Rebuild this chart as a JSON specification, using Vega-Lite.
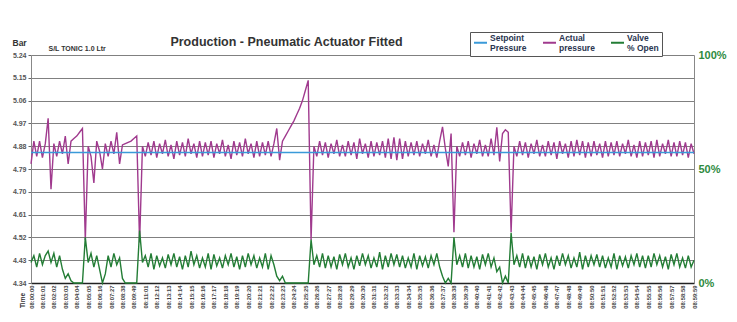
{
"$schema": "https://vega.github.io/schema/vega-lite/v6.json",
"autosize": "none",
"padding": {"left": 31, "top": 55, "right": 43, "bottom": 39},
"width": 663,
"height": 228,
"background": "white",
"config": {"font": "Liberation Sans", "view": {"stroke": null}},
"title": {"text": "Production - Pneumatic Actuator Fitted", "fontSize": 12.5, "fontWeight": "bold", "color": "#333333", "anchor": "middle", "frame": "group", "dx": -76, "offset": -27, "baseline": "alphabetic"},
"data": {"values": [
{"i":0,"p":4.81,"v":9},{"i":1,"p":4.90,"v":12},{"i":2,"p":4.84,"v":7},{"i":3,"p":4.90,"v":13},{"i":4,"p":4.835,"v":8},{"i":5,"p":4.89,"v":12},{"i":6,"p":4.99,"v":14},{"i":7,"p":4.71,"v":9},{"i":8,"p":4.89,"v":13},{"i":9,"p":4.84,"v":7},
{"i":10,"p":4.90,"v":12},{"i":11,"p":4.85,"v":6},{"i":12,"p":4.92,"v":2},{"i":13,"p":4.81,"v":4},{"i":14,"p":4.90,"v":1},{"i":15,"p":4.91,"v":0},{"i":16,"p":4.92,"v":0},{"i":17,"p":4.935,"v":0},{"i":18,"p":4.95,"v":0},{"i":19,"p":4.51,"v":20},
{"i":20,"p":4.88,"v":9},{"i":21,"p":4.84,"v":13},{"i":22,"p":4.735,"v":7},{"i":23,"p":4.90,"v":12},{"i":24,"p":4.86,"v":6},{"i":25,"p":4.79,"v":0},{"i":26,"p":4.89,"v":4},{"i":27,"p":4.84,"v":12},{"i":28,"p":4.90,"v":7},{"i":29,"p":4.85,"v":13},
{"i":30,"p":4.935,"v":8},{"i":31,"p":4.81,"v":11},{"i":32,"p":4.885,"v":2},{"i":33,"p":4.89,"v":0},{"i":34,"p":4.895,"v":0},{"i":35,"p":4.90,"v":0},{"i":36,"p":4.91,"v":0},{"i":37,"p":4.92,"v":0},{"i":38,"p":4.50,"v":23},{"i":39,"p":4.88,"v":9},
{"i":40,"p":4.84,"v":12},{"i":41,"p":4.895,"v":7},{"i":42,"p":4.845,"v":13},{"i":43,"p":4.90,"v":6},{"i":44,"p":4.835,"v":12},{"i":45,"p":4.89,"v":7.5},{"i":46,"p":4.85,"v":11},{"i":47,"p":4.905,"v":6.5},{"i":48,"p":4.84,"v":12.5},{"i":49,"p":4.885,"v":8},
{"i":50,"p":4.83,"v":13},{"i":51,"p":4.90,"v":7},{"i":52,"p":4.845,"v":11.5},{"i":53,"p":4.895,"v":6},{"i":54,"p":4.84,"v":12},{"i":55,"p":4.91,"v":7},{"i":56,"p":4.85,"v":14},{"i":57,"p":4.89,"v":8},{"i":58,"p":4.835,"v":12},{"i":59,"p":4.90,"v":6.5},
{"i":60,"p":4.84,"v":11},{"i":61,"p":4.895,"v":7},{"i":62,"p":4.845,"v":13},{"i":63,"p":4.90,"v":6},{"i":64,"p":4.835,"v":12.5},{"i":65,"p":4.89,"v":7.5},{"i":66,"p":4.85,"v":11},{"i":67,"p":4.905,"v":6.5},{"i":68,"p":4.84,"v":12},{"i":69,"p":4.885,"v":8},
{"i":70,"p":4.83,"v":13},{"i":71,"p":4.90,"v":7},{"i":72,"p":4.845,"v":11.5},{"i":73,"p":4.895,"v":6},{"i":74,"p":4.84,"v":12},{"i":75,"p":4.91,"v":7},{"i":76,"p":4.85,"v":13},{"i":77,"p":4.89,"v":8},{"i":78,"p":4.835,"v":12},{"i":79,"p":4.90,"v":6.5},
{"i":80,"p":4.84,"v":11},{"i":81,"p":4.895,"v":7},{"i":82,"p":4.845,"v":13},{"i":83,"p":4.90,"v":6},{"i":84,"p":4.84,"v":12},{"i":85,"p":4.89,"v":8},{"i":86,"p":4.95,"v":3},{"i":87,"p":4.825,"v":1},{"i":88,"p":4.90,"v":3},{"i":89,"p":4.92,"v":0},
{"i":90,"p":4.94,"v":0},{"i":91,"p":4.96,"v":0},{"i":92,"p":4.98,"v":0},{"i":93,"p":5.005,"v":0},{"i":94,"p":5.03,"v":0},{"i":95,"p":5.06,"v":0},{"i":96,"p":5.10,"v":0},{"i":97,"p":5.14,"v":0},{"i":98,"p":4.51,"v":19},{"i":99,"p":4.88,"v":8},
{"i":100,"p":4.84,"v":12},{"i":101,"p":4.90,"v":7},{"i":102,"p":4.845,"v":13},{"i":103,"p":4.895,"v":6.5},{"i":104,"p":4.835,"v":12},{"i":105,"p":4.89,"v":7},{"i":106,"p":4.85,"v":11.5},{"i":107,"p":4.905,"v":6},{"i":108,"p":4.84,"v":12.5},{"i":109,"p":4.885,"v":8},
{"i":110,"p":4.84,"v":13},{"i":111,"p":4.90,"v":7},{"i":112,"p":4.845,"v":11},{"i":113,"p":4.895,"v":6},{"i":114,"p":4.83,"v":12},{"i":115,"p":4.91,"v":7.5},{"i":116,"p":4.85,"v":13},{"i":117,"p":4.89,"v":8},{"i":118,"p":4.835,"v":12},{"i":119,"p":4.90,"v":6.5},
{"i":120,"p":4.84,"v":11},{"i":121,"p":4.895,"v":7},{"i":122,"p":4.845,"v":13.5},{"i":123,"p":4.90,"v":6},{"i":124,"p":4.835,"v":12},{"i":125,"p":4.91,"v":7},{"i":126,"p":4.83,"v":13},{"i":127,"p":4.915,"v":8},{"i":128,"p":4.825,"v":12.5},{"i":129,"p":4.91,"v":7},
{"i":130,"p":4.83,"v":12},{"i":131,"p":4.90,"v":6.5},{"i":132,"p":4.84,"v":11},{"i":133,"p":4.895,"v":7},{"i":134,"p":4.845,"v":13},{"i":135,"p":4.90,"v":6},{"i":136,"p":4.84,"v":12},{"i":137,"p":4.89,"v":7.5},{"i":138,"p":4.85,"v":11.5},{"i":139,"p":4.905,"v":6.5},
{"i":140,"p":4.84,"v":12},{"i":141,"p":4.885,"v":8},{"i":142,"p":4.835,"v":13},{"i":143,"p":4.90,"v":7},{"i":144,"p":4.956,"v":3},{"i":145,"p":4.87,"v":0},{"i":146,"p":4.80,"v":2},{"i":147,"p":4.93,"v":0},{"i":148,"p":4.54,"v":20},{"i":149,"p":4.88,"v":8},
{"i":150,"p":4.84,"v":12},{"i":151,"p":4.895,"v":7},{"i":152,"p":4.845,"v":13},{"i":153,"p":4.90,"v":6.5},{"i":154,"p":4.835,"v":12},{"i":155,"p":4.89,"v":7},{"i":156,"p":4.85,"v":11.5},{"i":157,"p":4.905,"v":6},{"i":158,"p":4.84,"v":12.5},{"i":159,"p":4.885,"v":8},
{"i":160,"p":4.84,"v":13},{"i":161,"p":4.91,"v":7},{"i":162,"p":4.845,"v":11},{"i":163,"p":4.955,"v":5},{"i":164,"p":4.82,"v":7},{"i":165,"p":4.93,"v":0},{"i":166,"p":4.945,"v":3},{"i":167,"p":4.935,"v":0},{"i":168,"p":4.54,"v":22},{"i":169,"p":4.88,"v":8},
{"i":170,"p":4.84,"v":12},{"i":171,"p":4.90,"v":7},{"i":172,"p":4.845,"v":13},{"i":173,"p":4.895,"v":6.5},{"i":174,"p":4.835,"v":12},{"i":175,"p":4.89,"v":7},{"i":176,"p":4.85,"v":11.5},{"i":177,"p":4.905,"v":6},{"i":178,"p":4.84,"v":12.5},{"i":179,"p":4.885,"v":8},
{"i":180,"p":4.84,"v":13},{"i":181,"p":4.90,"v":7},{"i":182,"p":4.845,"v":11},{"i":183,"p":4.895,"v":6},{"i":184,"p":4.83,"v":12},{"i":185,"p":4.90,"v":7.5},{"i":186,"p":4.85,"v":13},{"i":187,"p":4.89,"v":8},{"i":188,"p":4.835,"v":12},{"i":189,"p":4.90,"v":6.5},
{"i":190,"p":4.84,"v":11},{"i":191,"p":4.905,"v":7},{"i":192,"p":4.845,"v":13.5},{"i":193,"p":4.90,"v":6},{"i":194,"p":4.835,"v":12},{"i":195,"p":4.895,"v":7},{"i":196,"p":4.84,"v":12},{"i":197,"p":4.90,"v":8},{"i":198,"p":4.845,"v":12.5},{"i":199,"p":4.89,"v":7},
{"i":200,"p":4.835,"v":12},{"i":201,"p":4.90,"v":6.5},{"i":202,"p":4.84,"v":11},{"i":203,"p":4.895,"v":7},{"i":204,"p":4.845,"v":13},{"i":205,"p":4.90,"v":6},{"i":206,"p":4.84,"v":12},{"i":207,"p":4.89,"v":7.5},{"i":208,"p":4.85,"v":11.5},{"i":209,"p":4.905,"v":6.5},
{"i":210,"p":4.84,"v":12},{"i":211,"p":4.885,"v":8},{"i":212,"p":4.835,"v":13},{"i":213,"p":4.90,"v":7},{"i":214,"p":4.84,"v":12},{"i":215,"p":4.895,"v":6.5},{"i":216,"p":4.845,"v":12},{"i":217,"p":4.90,"v":7},{"i":218,"p":4.835,"v":13},{"i":219,"p":4.905,"v":8},
{"i":220,"p":4.84,"v":12},{"i":221,"p":4.89,"v":7},{"i":222,"p":4.85,"v":11.5},{"i":223,"p":4.905,"v":6},{"i":224,"p":4.84,"v":12.5},{"i":225,"p":4.895,"v":8},{"i":226,"p":4.84,"v":13},{"i":227,"p":4.90,"v":7},{"i":228,"p":4.845,"v":11},{"i":229,"p":4.895,"v":6.5},
{"i":230,"p":4.835,"v":12},{"i":231,"p":4.89,"v":7},{"i":232,"p":4.85,"v":10}
]},
"layer": [
 {"layer": [
  {"mark": {"type": "line", "strokeWidth": 1.4},
   "encoding": {
    "x": {"field": "i", "type": "quantitative", "scale": {"domain": [0, 232], "nice": false, "zero": false},
      "axis": {"values": [0,4,8,12,16,20,24,28,32,36,40,44,48,52,56,60,64,68,72,76,80,84,88,92,96,100,104,108,112,116,120,124,128,132,136,140,144,148,152,156,160,164,168,172,176,180,184,188,192,196,200,204,208,212,216,220,224,228,232], "tickCount": 59,
        "labelExpr": "['08:00:00','08:01:01','08:02:02','08:03:03','08:04:04','08:05:05','08:06:16','08:07:27','08:08:38','08:09:49','08:11:01','08:12:12','08:13:13','08:14:14','08:15:15','08:16:16','08:17:17','08:18:18','08:19:19','08:20:20','08:21:21','08:22:22','08:23:23','08:24:24','08:25:25','08:26:26','08:27:27','08:28:28','08:29:29','08:30:30','08:31:31','08:32:32','08:33:33','08:34:34','08:35:35','08:36:36','08:37:37','08:38:38','08:39:39','08:40:40','08:41:41','08:42:42','08:43:43','08:44:44','08:45:45','08:46:46','08:47:47','08:48:48','08:49:49','08:50:50','08:51:51','08:52:52','08:53:53','08:54:54','08:55:55','08:56:56','08:57:57','08:58:58','08:59:59'][round(datum.value/4)]",
        "labelAngle": 270, "labelFontSize": 5.8, "labelFontWeight": "bold", "labelColor": "#444444", "labelPadding": 2, "labelOverlap": false, "labelFlush": false, "labelBound": false,
        "ticks": false, "grid": false, "domainColor": "#222222", "domainWidth": 1.5,
        "title": "Time", "titleAngle": 270, "titleX": -9, "titleY": 17, "titleAlign": "center", "titleBaseline": "middle", "titleFontSize": 6.5, "titleFontWeight": "bold", "titleColor": "#333333"}},
    "y": {"field": "p", "type": "quantitative", "scale": {"domain": [4.34, 5.24], "nice": false, "zero": false},
      "axis": {"values": [4.34,4.43,4.52,4.61,4.70,4.79,4.88,4.97,5.06,5.15,5.24], "tickCount": 11, "format": ".2f", "labelOverlap": false,
        "labelFontSize": 7, "labelFontWeight": "bold", "labelColor": "#555555", "labelPadding": 2,
        "tickSize": 3, "tickColor": "#666666", "domainColor": "#888888", "gridColor": "#808080", "gridWidth": 1,
        "title": "Bar", "titleAngle": 0, "titleX": -19, "titleY": -10, "titleAlign": "left", "titleBaseline": "alphabetic", "titleFontSize": 8.5, "titleFontWeight": "bold", "titleColor": "#333333"}},
    "color": {"datum": "Actual|pressure", "type": "nominal",
      "scale": {"domain": ["Setpoint|Pressure", "Actual|pressure", "Valve|% Open"], "range": ["#3a9ad9", "#a03a8e", "#237d35"]},
      "legend": {"orient": "none", "legendX": 439, "legendY": -23, "direction": "horizontal", "title": null,
        "symbolType": "stroke", "symbolSize": 169, "symbolStrokeWidth": 2,
        "labelExpr": "split(datum.label, '|')", "labelFontSize": 8.5, "labelFontWeight": "bold", "labelColor": "#2a3550", "labelBaseline": "bottom",
        "strokeColor": "#555555", "fillColor": "white", "padding": 3, "columnPadding": 12, "labelOffset": 2, "labelLimit": 200}}
   }},
  {"data": {"values": [{"sp": 4.855}]},
   "mark": {"type": "rule", "strokeWidth": 1.6},
   "encoding": {"y": {"field": "sp", "type": "quantitative"}, "color": {"datum": "Setpoint|Pressure", "type": "nominal"}}}
 ]},
 {"mark": {"type": "line", "strokeWidth": 1.4},
  "encoding": {
   "x": {"field": "i", "type": "quantitative"},
   "y": {"field": "v", "type": "quantitative", "scale": {"domain": [0, 100], "nice": false},
     "axis": {"orient": "right", "values": [0, 50, 100], "labelExpr": "datum.value + '%'", "labelFontSize": 11, "labelFontWeight": "bold", "labelColor": "#2e8b3e", "labelPadding": 4, "ticks": false, "grid": false, "domainColor": "#888888",
       "title": "S/L TONIC 1.0 Ltr", "titleAngle": 0, "titleX": -646, "titleY": -5, "titleAlign": "left", "titleBaseline": "alphabetic", "titleFontSize": 7, "titleFontWeight": "bold", "titleColor": "#333333"}},
   "color": {"datum": "Valve|% Open", "type": "nominal"}
  }}
],
"resolve": {"scale": {"y": "independent"}}
}
